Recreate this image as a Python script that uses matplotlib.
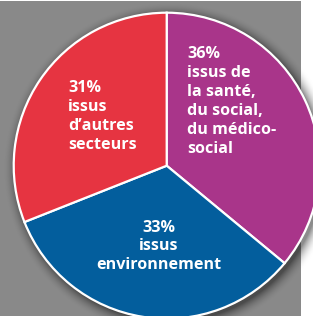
import numpy as np
import matplotlib
matplotlib.use("Agg")
import matplotlib.pyplot as plt

# Data
categories = ["issus de\nla santé,\ndu social,\ndu médico-\nsocial",
              "issus\nenvironnement",
              "issus\nd\u2019autres\nsecteurs"]
values = [36, 33, 31]
colors = ["#A9358A", "#035E9D", "#E63441"]

W, H = 313, 316
fig = plt.figure(figsize=(W / 100, H / 100), dpi=100)
ax = fig.add_axes([0, 0, 1, 1])

# Pie geometry (pixels, y up)
cx, cy, r = 166.7, H - 165.7, 153.0

# Background: gray panel + white right strip + soft drop shadow
yy, xx = np.mgrid[0:H, 0:W] + 0.5
bg = np.where(xx < 301, 0.54, 1.0)
bg[yy < 1] = 1.0
d = np.hypot(xx - (cx + 3), (H - yy) - (cy - 3))
t = np.clip((d - r) / 14.0, 0, 1)
shade = np.where(d > r, 0.45 * (1 - t) ** 2, 0.45)
img = bg * (1 - shade)
ax.imshow(np.dstack([img, img, img]), extent=(0, W, 0, H), origin="upper",
          interpolation="bilinear", zorder=0)

ax.pie(values, colors=colors, startangle=90, counterclock=False,
       center=(cx, cy), radius=r,
       wedgeprops=dict(edgecolor="white", linewidth=1.6), frame=False)

ax.set_xlim(0, W)
ax.set_ylim(0, H)
ax.set_aspect("auto")
ax.axis("off")

fs = 11.6
font = dict(family=["Open Sans", "DejaVu Sans"], weight="bold", color="white",
            fontsize=fs, linespacing=1.24)
labels = [f"{v}%\n{c}" for v, c in zip(values, categories)]
ax.text(187, H - 101.5, labels[0], ha="left", va="center", **font)
ax.text(159, H - 246.5, labels[1], ha="center", va="center", multialignment="center", **font)
ax.text(68, H - 116.5, labels[2], ha="left", va="center", **font)

fig.savefig("out.png", dpi=100)
